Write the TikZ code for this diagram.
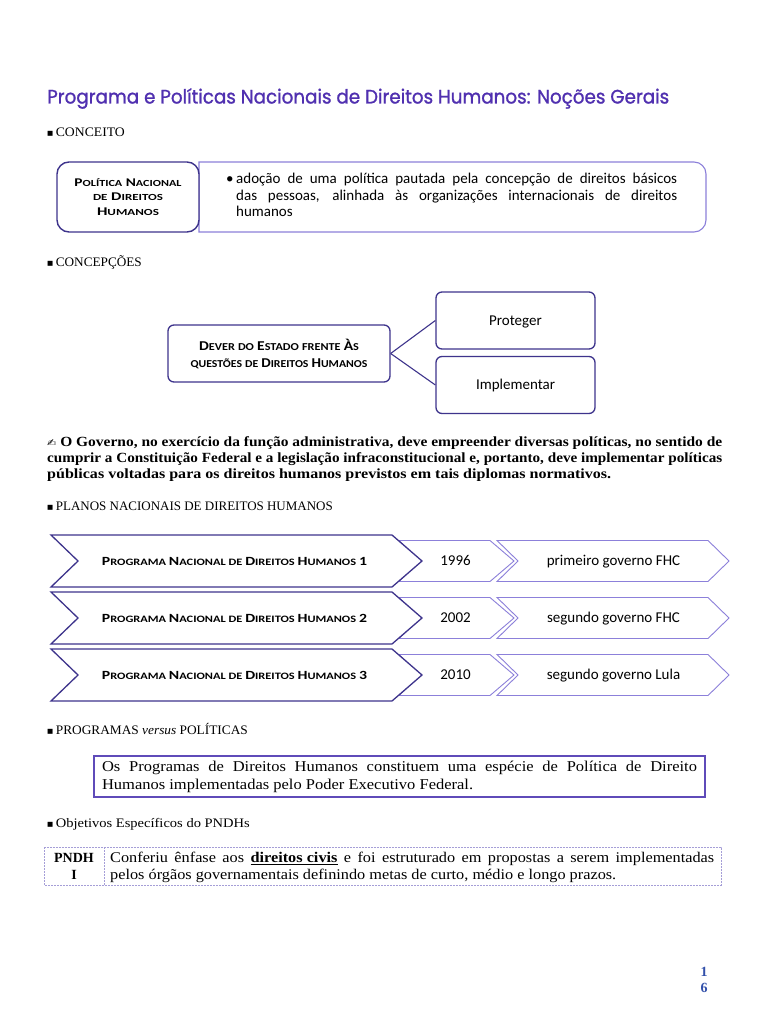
\documentclass[tikz,border=0pt]{standalone}
\usepackage{fontspec}
\usepackage{graphicx}
\setmainfont{Liberation Serif}
\newfontfamily\wserif{Liberation Serif}[FakeStretch=1.1]
\newfontfamily\calfont{Carlito}
\newfontfamily\titfont{Poppins}[FakeBold=1.2]
\newfontfamily\djv{DejaVu Sans}
\definecolor{titlec}{RGB}{80,48,176}
\definecolor{dark}{RGB}{62,52,140}
\definecolor{light}{RGB}{140,128,218}
\definecolor{boxp}{RGB}{95,75,185}
\definecolor{pagen}{RGB}{50,80,170}
\definecolor{tabc}{RGB}{165,158,215}
\newcommand\fitw[2]{\resizebox{#1}{\height}{#2}}
\newcommand\bsq{{\djv\fontsize{6.5}{8}\selectfont\raisebox{0.8pt}{■}}}
\def\scB{12.5}\def\scS{9.8}
\newcommand\smc[2]{{\fontsize{\scB}{14}\selectfont #1}{\fontsize{\scS}{14}\selectfont #2}}
\tikzset{
  hdr/.style={anchor=base west, inner sep=0, font=\fontsize{13}{15}\selectfont},
  darkbox/.style={draw=dark, line width=1.3pt, rounded corners=6pt, fill=white, inner sep=0},
  lightchev/.style={draw=light, line width=0.9pt, fill=white},
  darkchev/.style={draw=dark, line width=1.3pt, fill=white},
  conn/.style={draw=dark, line width=1.1pt},
  tabline/.style={draw=tabc, line width=0.8pt, dash pattern=on 2pt off 1pt},
  plain/.style={inner sep=0},
  caltxt/.style={inner sep=0, font=\calfont\fontsize{15}{17}\selectfont, text height=9.5pt, text depth=0pt}
}
\begin{document}
\begin{tikzpicture}[x=1pt,y=-1pt]
\useasboundingbox (0,0) rectangle (768,1024);
\fill[white] (0,0) rectangle (768,1024);

% title
\node[anchor=base west, inner sep=0, text=titlec] (title) at (47,103.5)
  {\fitw{622pt}{\titfont\fontsize{19.5}{23}\selectfont Programa e Políticas Nacionais de Direitos Humanos: Noções Gerais}};

% CONCEITO
\node[hdr] (hconc) at (47,136.5) {\bsq\hspace{2.5pt}\fitw{69pt}{CONCEITO}};

\draw[draw=light, line width=1.1pt, fill=white] (199,162) -- (694,162)
  arc[start angle=-90, end angle=0, radius=12] -- (706,220)
  arc[start angle=0, end angle=90, radius=12] -- (199,232) -- cycle;
\node[draw=dark, line width=1.4pt, rounded corners=12pt, fill=white, minimum width=142pt, minimum height=70pt, inner sep=0, align=center,
  font=\calfont\bfseries\fontsize{12}{14.5}\selectfont] (polnac) at (128,197)
  {\def\scB{11.8}\def\scS{9.3}\fitw{107pt}{\smc{P}{OLÍTICA} \smc{N}{ACIONAL}}\\
   \def\scB{11.8}\def\scS{9.3}\fitw{70pt}{\smc{}{DE} \smc{D}{IREITOS}}\\
   \def\scB{11.8}\def\scS{9.3}\fitw{62pt}{\smc{H}{UMANOS}}};
\node[anchor=base west, plain] (bul) at (226,184) {\calfont\fontsize{15}{16.5}\selectfont •};
\node[anchor=base west, plain] (conc) at (236,184)
  {\parbox[t]{441pt}{\calfont\fontsize{15}{16.5}\selectfont adoção de uma política pautada pela concepção de direitos básicos\linebreak das pessoas, alinhada às organizações internacionais de direitos\linebreak humanos}};

% CONCEPCOES
\node[hdr] (hconcp) at (47,266.5) {\bsq\hspace{2.5pt}\fitw{86pt}{CONCEPÇÕES}};

\node[darkbox, minimum width=222pt, minimum height=57pt, align=center,
  font=\calfont\bfseries\fontsize{12}{17}\selectfont] (dever) at (279,353.5)
  {\def\scB{13.5}\def\scS{10.6}\fitw{160pt}{\smc{D}{EVER} \smc{}{DO} \smc{E}{STADO} \smc{}{FRENTE} \smc{À}{S}}\\
   \def\scB{13.5}\def\scS{10.6}\fitw{177pt}{\smc{}{QUESTÕES} \smc{}{DE} \smc{D}{IREITOS} \smc{H}{UMANOS}}};
\node[darkbox, minimum width=159pt, minimum height=57pt] (proteger) at (515.5,320.5) {};
\node[darkbox, minimum width=159pt, minimum height=57pt] (implementar) at (515.5,385) {};
\node[caltxt] (tprot) at (proteger.center) {Proteger};
\node[caltxt] (timpl) at (implementar.center) {Implementar};
\draw[conn] (dever.east) -- (proteger.west);
\draw[conn] (dever.east) -- (implementar.west);

% paragraph
\node[anchor=base west, plain] (para) at (47,446.5)
  {\parbox[t]{675pt}{\bfseries\fontsize{14}{16}\selectfont
   \fitw{675pt}{{\djv\mdseries\fontsize{10}{12}\selectfont ✍}\ O Governo, no exercício da função administrativa, deve empreender diversas políticas, no sentido de}\\
   \fitw{675pt}{cumprir a Constituição Federal e a legislação infraconstitucional e, portanto, deve implementar políticas}\\
   \fitw{564pt}{públicas voltadas para os direitos humanos previstos em tais diplomas normativos.}}};

% PLANOS
\node[hdr] (hplanos) at (47,510.5) {\bsq\hspace{2.5pt}\fitw{277pt}{PLANOS NACIONAIS DE DIREITOS HUMANOS}};

\foreach \i/\yc/\yr/\gov in {1/561/1996/primeiro governo FHC, 2/618/2002/segundo governo FHC, 3/675/2010/segundo governo Lula} {
  \draw[lightchev] (497,\yc-20.5) -- (708,\yc-20.5) -- (729,\yc) -- (708,\yc+20.5) -- (497,\yc+20.5) -- (518,\yc) -- cycle;
  \draw[lightchev] (399,\yc-20.5) -- (490,\yc-20.5) -- (514,\yc) -- (490,\yc+20.5) -- (399,\yc+20.5) -- (420,\yc) -- cycle;
  \draw[darkchev] (51,\yc-26) -- (392,\yc-26) -- (422,\yc) -- (392,\yc+26) -- (51,\yc+26) -- (78,\yc) -- cycle;
  \node[plain, font=\calfont\bfseries, text height=8pt, text depth=0pt] (p\i) at (234.5,\yc)
    {\fitw{265pt}{\smc{P}{ROGRAMA} \smc{N}{ACIONAL} \smc{}{DE} \smc{D}{IREITOS} \smc{H}{UMANOS} \smc{\i}{}}};
  \node[caltxt] (y\i) at (455.5,\yc) {\yr};
  \node[caltxt] (g\i) at (613.5,\yc) {\gov};
}

% PROGRAMAS versus POLITICAS
\node[hdr] (hprog) at (47,734.5) {\bsq\hspace{2.5pt}\fitw{192pt}{PROGRAMAS \textit{versus} POLÍTICAS}};
\node[draw=boxp, line width=1.8pt, minimum width=611pt, minimum height=41pt, inner sep=0] (progbox) at (399.5,776.5)
  {\parbox{595pt}{\wserif\fontsize{15}{18}\selectfont Os Programas de Direitos Humanos constituem uma espécie de Política de Direito\linebreak Humanos implementadas pelo Poder Executivo Federal.}};

% Objetivos
\node[hdr] (hobj) at (47,827.5) {\bsq\hspace{2.5pt}\fitw{194pt}{Objetivos Específicos do PNDHs}};
\draw[tabline] (44,847) rectangle (721,885);
\draw[tabline] (104,847) -- (104,885);
\node[plain, align=center, font=\bfseries\fontsize{14}{17}\selectfont] (pndh) at (74,866) {PNDH\\I};
\node[anchor=base west, plain] (obj) at (110,862.5)
  {\parbox[t]{604pt}{\wserif\fontsize{14.8}{17}\selectfont Conferiu ênfase aos \underline{\textbf{direitos civis}} e foi estruturado em propostas a serem implementadas\linebreak pelos órgãos governamentais definindo metas de curto, médio e longo prazos.}};

% page number
\node[plain, align=center, text=pagen, font=\bfseries\fontsize{14}{16}\selectfont] (pg) at (704,980) {1\\6};
\end{tikzpicture}
\end{document}
